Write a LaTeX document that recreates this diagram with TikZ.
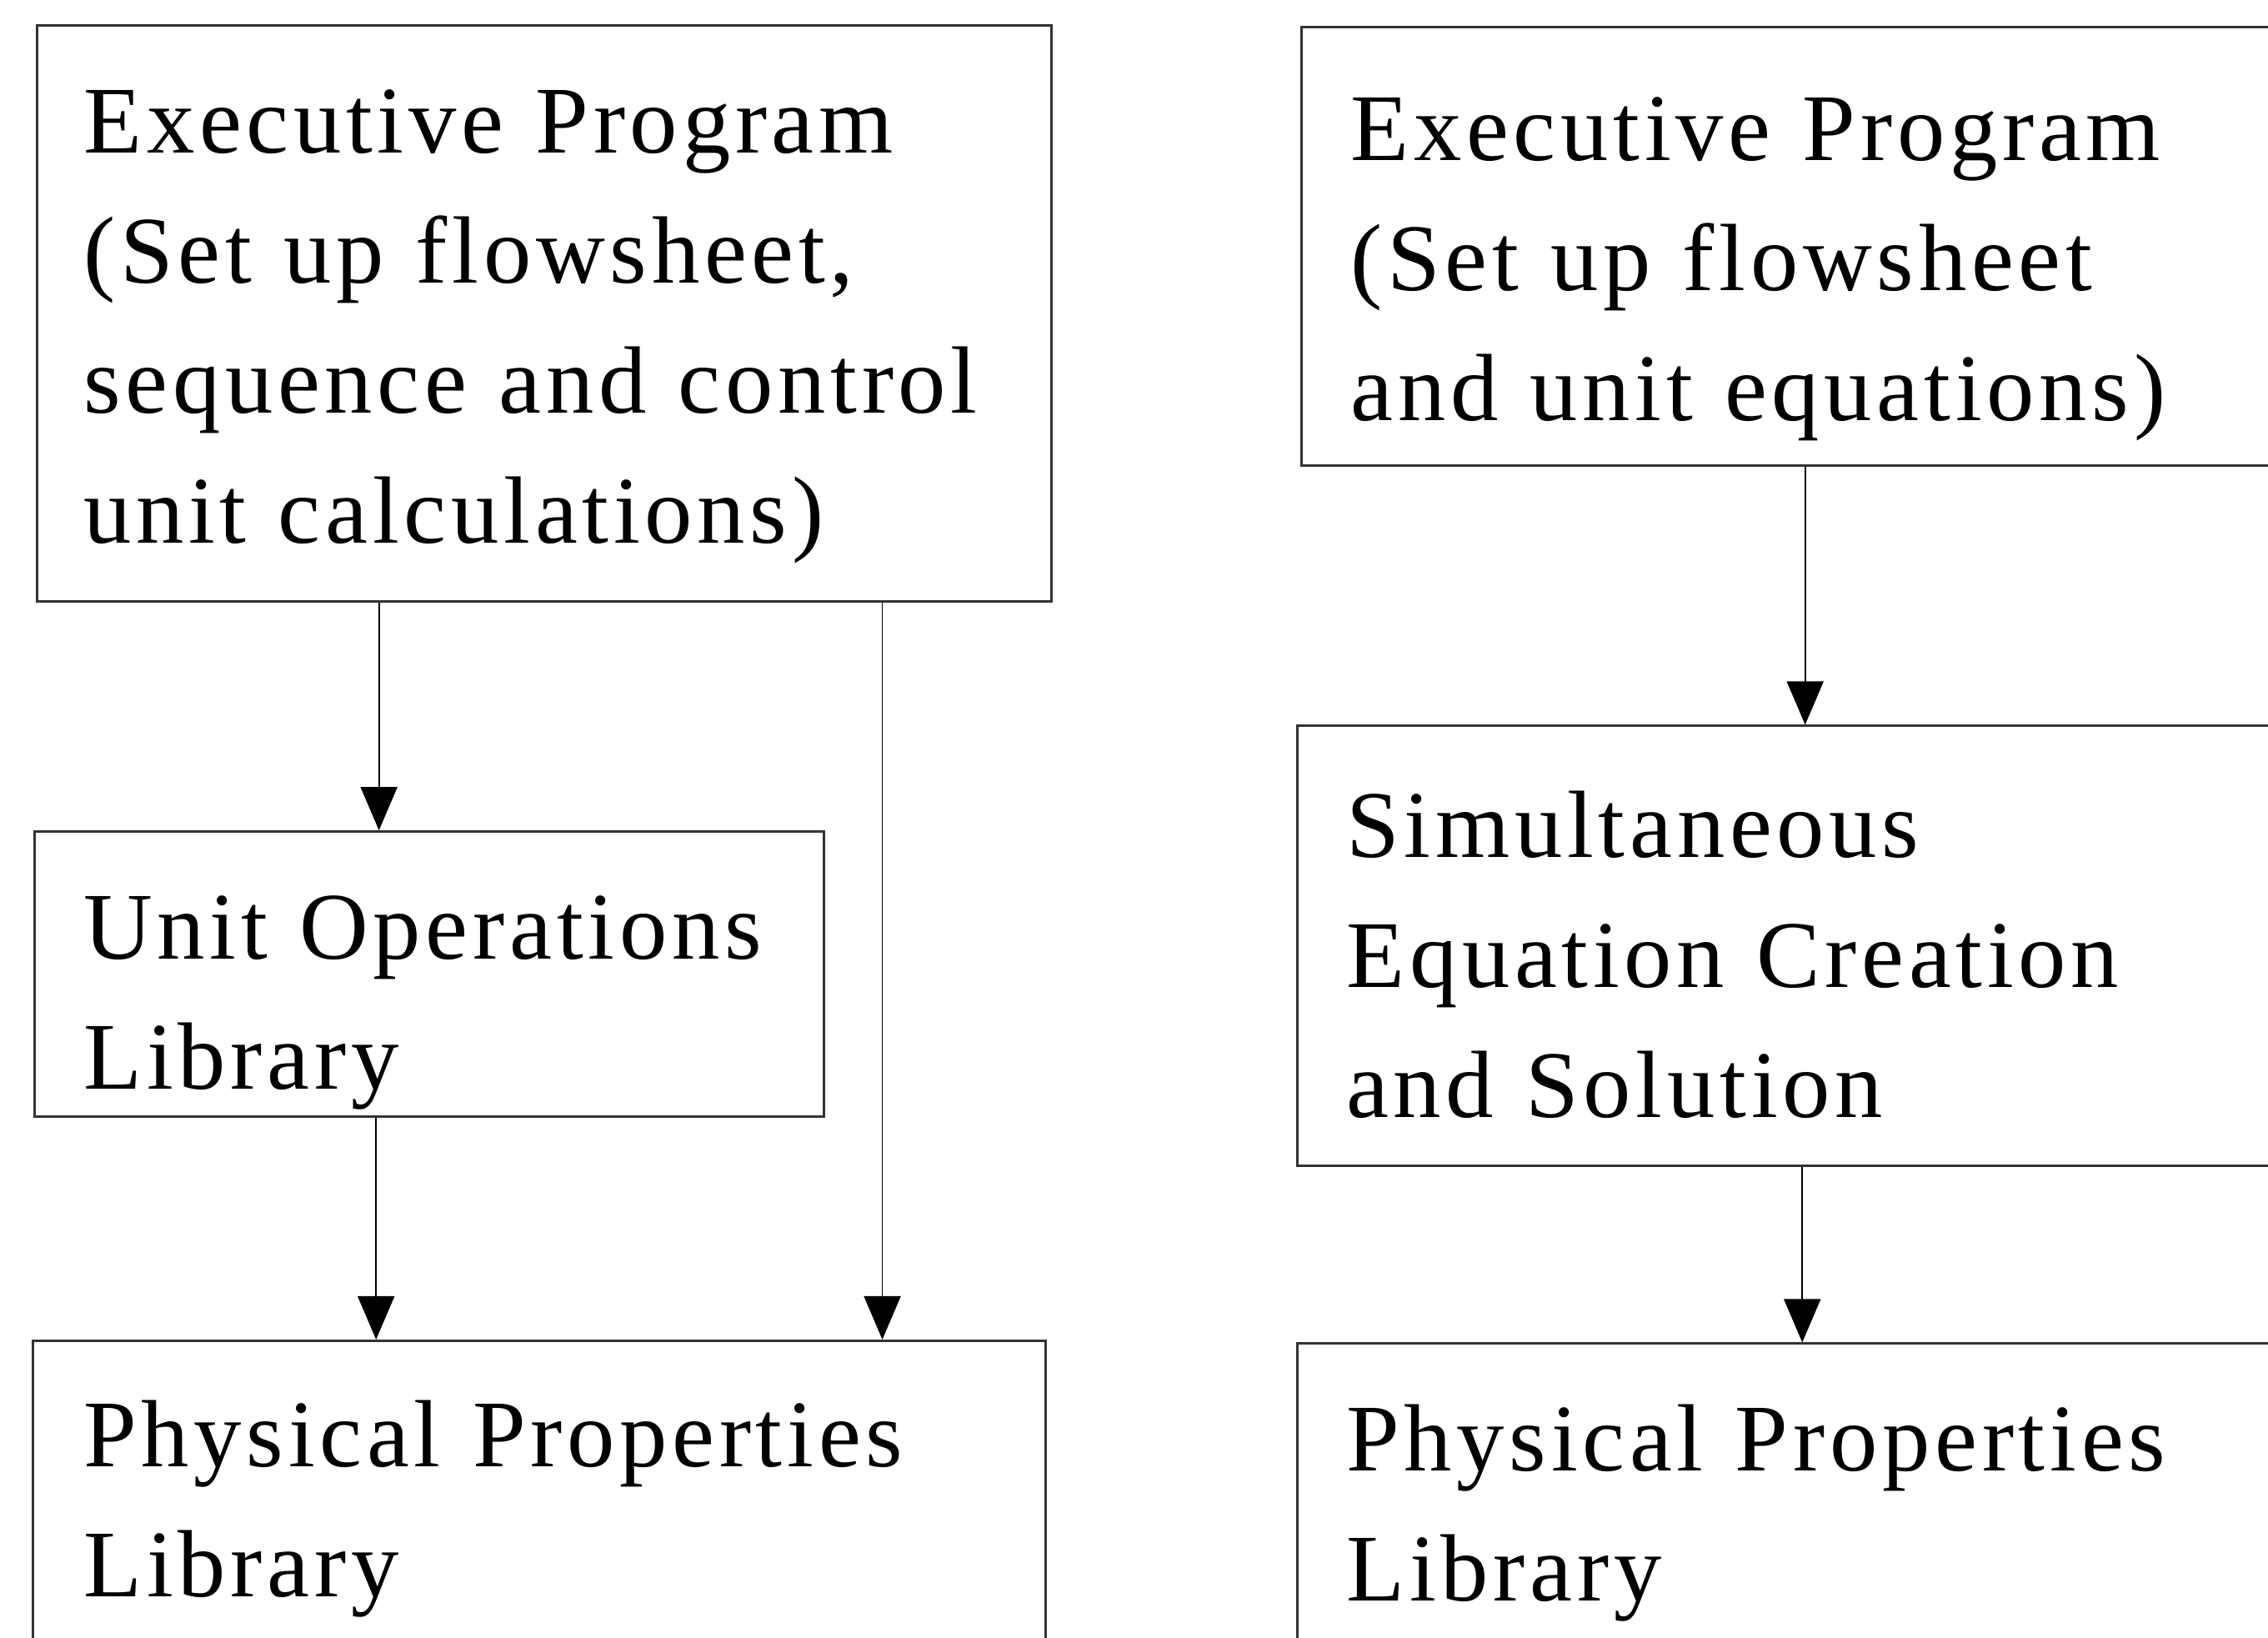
\documentclass[tikz,border=0pt]{standalone}
\usepackage{fontspec}
\setmainfont{Liberation Serif}[LetterSpace=5.0]
\usetikzlibrary{arrows.meta}
\newcommand\boxfont{\fontsize{57.3}{78}\selectfont}
\begin{document}
\begin{tikzpicture}[x=0.8676pt, y=-0.8676pt,
  box/.style={draw=black!80, line width=1.4pt, anchor=north west, align=left,
              inner ysep=0pt, font=\boxfont, text=black},
  arr/.style={draw=black, line width=0.9pt, -{Triangle[length=26pt,width=22pt]}}]
  \useasboundingbox (0,0) rectangle (1568,1132);
  \fill[white] (0,0) rectangle (1568,1132);
  \clip (0,0) rectangle (1568,1132);

  % sequential-modular structure (left)
  \node[box, inner xsep=27.76pt, text width=552.7pt, text height=76.35pt, text depth=268.96pt]
    (execL) at (25,17) {Executive~Program\\(Set~up~flowsheet,\\sequence~and~control\\unit~calculations)};
  \node[box, inner xsep=29.5pt, text width=414.7pt, text height=76.35pt, text depth=94.57pt]
    (unitops) at (23,574) {Unit~Operations\\Library};
  \node[box, inner xsep=30.37pt, text width=546.6pt, text height=75.48pt, text depth=136.2pt]
    (physL) at (22,926) {Physical~Properties\\Library};

  % equation-oriented structure (right)
  \node[box, inner xsep=29.5pt, text width=566.5pt, text height=79.82pt, text depth=183.06pt]
    (execR) at (899,18) {Executive~Program\\(Set~up~flowsheet\\and~unit~equations)};
  \node[box, inner xsep=29.5pt, text width=569.1pt, text height=78.95pt, text depth=184.8pt]
    (simul) at (896,501) {Simultaneous\\Equation~Creation\\and~Solution};
  \node[box, inner xsep=29.5pt, text width=569.1pt, text height=76.35pt, text depth=133.6pt]
    (physR) at (896,928) {Physical~Properties\\Library};

  % connector columns
  \coordinate (c1) at (262,0);
  \coordinate (c2) at (260,0);
  \coordinate (c3) at (610,0);
  \coordinate (c4) at (1248,0);
  \coordinate (c5) at (1246,0);

  \draw[arr] (execL.south -| c1) -- (unitops.north -| c1);
  \draw[arr] (unitops.south -| c2) -- (physL.north -| c2);
  \draw[arr] (execL.south -| c3) -- (physL.north -| c3);
  \draw[arr] (execR.south -| c4) -- (simul.north -| c4);
  \draw[arr] (simul.south -| c5) -- (physR.north -| c5);
\end{tikzpicture}
\end{document}
